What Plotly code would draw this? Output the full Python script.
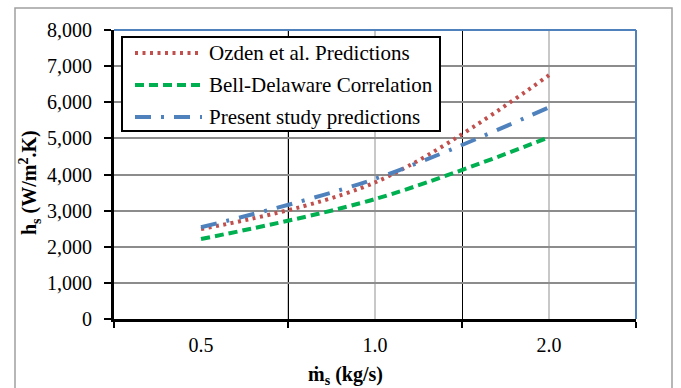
import plotly.graph_objects as go

# Shell-side mass flow rate categories (kg/s)
mass_flow = ["0.5", "1.0", "2.0"]

# Shell-side heat transfer coefficient (W/m2.K)
ozden_pred = [2490, 3780, 6750]
bell_delaware = [2215, 3320, 5030]
present_study = [2540, 3880, 5860]

FONT = "Liberation Serif"
W, H = 681, 388
L, R, T, B = 114, 636, 30, 319  # plot-area edges in pixels


def px_x(px):
    return (px - L) / (R - L)


def px_y(py):
    return (B - py) / (B - T)


RED = "#C0504D"
GREEN = "#00B050"
BLUE = "#4F81BD"

series = [
    ("Ozden et al. Predictions", ozden_pred, RED, "3px,4.5px"),
    ("Bell-Delaware Correlation", bell_delaware, GREEN, "9px,5px"),
    ("Present study predictions", present_study, BLUE, "16px,10px,3px,10px"),
]

fig = go.Figure()
for name, vals, color, dash in series:
    fig.add_trace(go.Scatter(
        x=mass_flow, y=vals, name=name, mode="lines",
        line=dict(color=color, width=4, dash=dash, shape="spline"),
        showlegend=False,
    ))

shapes = []
# light grey lines through each category centre
for cat in mass_flow:
    shapes.append(dict(type="line", xref="x", yref="paper", x0=cat, x1=cat,
                       y0=0, y1=1, line=dict(color="#C8C8C8", width=2),
                       layer="below"))
# blue top and right frame
shapes.append(dict(type="line", xref="paper", yref="paper", x0=0, x1=1,
                   y0=1, y1=1, line=dict(color=BLUE, width=2)))
shapes.append(dict(type="line", xref="paper", yref="paper", x0=1, x1=1,
                   y0=0, y1=1, line=dict(color=BLUE, width=2)))
# outer chart border
shapes.append(dict(type="rect", xref="paper", yref="paper",
                   x0=px_x(15), x1=px_x(672), y0=px_y(420), y1=px_y(8),
                   line=dict(color="#A0A0A0", width=1.5)))
# legend box
shapes.append(dict(type="rect", xref="paper", yref="paper",
                   x0=px_x(122), x1=px_x(440), y0=px_y(131), y1=px_y(37),
                   fillcolor="white", line=dict(color="black", width=2)))

annotations = []
legend_rows = [53, 85, 117]
for (name, vals, color, dash), ry in zip(series, legend_rows):
    shapes.append(dict(type="line", xref="paper", yref="paper",
                       x0=px_x(135), x1=px_x(202), y0=px_y(ry), y1=px_y(ry),
                       line=dict(color=color, width=4, dash=dash)))
    annotations.append(dict(xref="paper", yref="paper", x=px_x(207),
                            y=px_y(ry), xanchor="left", yanchor="middle",
                            text=name, showarrow=False,
                            font=dict(family=FONT, size=21, color="black")))

annotations.append(dict(xref="paper", yref="paper", x=px_x(30), y=px_y(183),
                        text="<b>h<sub>s</sub> (W/m<sup>2</sup>.K)</b>",
                        textangle=-90, showarrow=False,
                        xanchor="center", yanchor="middle",
                        font=dict(family=FONT, size=20, color="black")))
annotations.append(dict(xref="paper", yref="paper", x=px_x(345), y=px_y(375),
                        text="<b>ṁ<sub>s</sub> (kg/s)</b>",
                        showarrow=False, xanchor="center", yanchor="middle",
                        font=dict(family=FONT, size=20, color="black")))

fig.update_layout(
    width=W, height=H,
    margin=dict(l=L, r=W - R, t=T, b=H - B),
    paper_bgcolor="white", plot_bgcolor="white",
    font=dict(family=FONT, size=20, color="black"),
    shapes=shapes, annotations=annotations,
    showlegend=False,
    xaxis=dict(
        type="category", range=[-0.5, 2.5],
        tickson="boundaries", ticks="outside", ticklen=6, tickwidth=2,
        tickcolor="black", showline=True, linewidth=3, linecolor="black",
        showgrid=True, gridcolor="black", gridwidth=1,
        ticklabelstandoff=6,
        tickfont=dict(family=FONT, size=20, color="black"),
    ),
    yaxis=dict(
        range=[0, 8000], dtick=1000, tickformat=",d",
        ticks="outside", ticklen=7, tickwidth=2, tickcolor="black",
        showline=True, linewidth=3, linecolor="black",
        showgrid=True, gridcolor="#8C8C8C", gridwidth=2, zeroline=False,
        ticklabelstandoff=8,
        tickfont=dict(family=FONT, size=20, color="black"),
    ),
)

fig.write_html("out.html")
